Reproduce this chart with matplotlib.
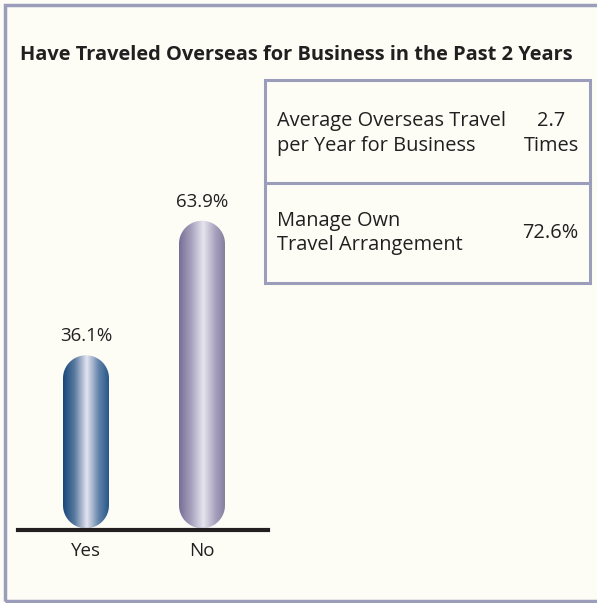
import numpy as np
import matplotlib
matplotlib.use("Agg")
import matplotlib.pyplot as plt
from matplotlib.colors import LinearSegmentedColormap
from matplotlib.patches import PathPatch, Rectangle
from matplotlib.path import Path
from matplotlib.lines import Line2D

plt.rcParams["font.family"] = ["Open Sans", "DejaVu Sans"]

categorias = ["Yes", "No"]
porcentajes = [36.1, 63.9]
titulo = "Have Traveled Overseas for Business in the Past 2 Years"
filas_texto = ["Average Overseas Travel\nper Year for Business", "Manage Own\nTravel Arrangement"]
filas_valor = ["2.7\nTimes", "72.6%"]

fondo = "#fdfdf6"
borde = "#9b9dbb"
tinta = "#231f20"
degradados = [
    ["#17477a", "#58799f", "#e4e4f0", "#6283aa", "#265789"],
    ["#776f95", "#a59fbb", "#e6e4ee", "#a7a1bd", "#827a9c"],
]

W, H = 597, 603
fig = plt.figure(figsize=(W / 100, H / 100), dpi=100)
fig.patch.set_facecolor(fondo)


def px(x, y):
    # pixel coords (origin top-left) -> figure fraction
    return x / W, 1 - y / H


def capsula(xc, ancho, y0, y1, ry, n=40):
    # rectangulo con extremos semicirculares (radios rx, ry en unidades de datos)
    rx = ancho / 2
    t = np.linspace(0, np.pi, n)
    arriba = np.column_stack([xc + rx * np.cos(t), y1 - ry + ry * np.sin(t)])
    abajo = np.column_stack([xc - rx * np.cos(t), y0 + ry - ry * np.sin(t)])
    pts = np.vstack([arriba, abajo, arriba[:1]])
    return Path(pts, closed=True)


# marco exterior
x0, y0 = px(5, 601)
fig.patches.append(Rectangle((x0, y0), (600 - 5) / W, (601 - 5) / H,
                             transform=fig.transFigure, fill=False,
                             edgecolor=borde, linewidth=2.5))

fig.text(*px(20, 55), titulo, fontsize=14.45, fontweight="bold",
         color=tinta, va="center", ha="left")

# cuadro de datos a la derecha
bx0, by0 = px(265, 283)
fig.patches.append(Rectangle((bx0, by0), (590 - 265) / W, (283 - 80) / H,
                             transform=fig.transFigure, fill=False,
                             edgecolor=borde, linewidth=2.2))
fig.lines.append(Line2D([265 / W, 590 / W], [1 - 183 / H] * 2,
                        transform=fig.transFigure, color=borde, linewidth=2.2))
fs_caja = 14.4
fig.text(*px(277, 133.5), filas_texto[0], fontsize=fs_caja, color=tinta,
         va="center", ha="left", linespacing=1.3)
fig.text(*px(551, 133.5), filas_valor[0], fontsize=fs_caja, color=tinta,
         va="center", ha="center", linespacing=1.3)
fig.text(*px(277, 233), filas_texto[1], fontsize=fs_caja, color=tinta,
         va="center", ha="left", linespacing=1.3)
fig.text(*px(578, 233), filas_valor[1], fontsize=fs_caja, color=tinta,
         va="center", ha="right")

# ejes de las barras
ax_l, ax_r, ax_b, ax_t = 18, 268, 530, 100
ax = fig.add_axes([ax_l / W, 1 - ax_b / H, (ax_r - ax_l) / W, (ax_b - ax_t) / H])
ax.set_facecolor("none")
sep = 116.0
xlim = (-68 / sep, (ax_r - ax_l - 68) / sep)
ppp = 4.84  # pixeles por punto porcentual
ymax = (ax_b - ax_t) / ppp
ax.set_xlim(*xlim)
ax.set_ylim(0, ymax)
for s in ["top", "right", "left"]:
    ax.spines[s].set_visible(False)
ax.spines["bottom"].set_color(tinta)
ax.spines["bottom"].set_linewidth(3)
ax.set_yticks([])
ax.set_xticks(range(len(categorias)))
ax.set_xticklabels(categorias, fontsize=13.5, color=tinta)
ax.tick_params(axis="x", length=0, pad=9)

ancho = 46 / sep
ry = 23 / ppp
for i, v in enumerate(porcentajes):
    patch = PathPatch(capsula(i, ancho, 0.35, v, ry), facecolor="none",
                      edgecolor="none", transform=ax.transData)
    ax.add_patch(patch)
    cmap = LinearSegmentedColormap.from_list(
        f"g{i}", list(zip([0, 0.25, 0.52, 0.78, 1.0], degradados[i])))
    grad = np.linspace(0, 1, 256).reshape(1, -1)
    im = ax.imshow(grad, cmap=cmap, aspect="auto",
                   extent=[i - ancho / 2, i + ancho / 2, 0, v],
                   interpolation="bilinear", zorder=2)
    im.set_clip_path(patch)
    ax.text(i, v + 2.1, f"{v}%", ha="center", va="bottom",
            fontsize=13.5, color=tinta)

ax.set_xlim(*xlim)
ax.set_ylim(0, ymax)

fig.savefig("out.png", dpi=100, facecolor=fondo)
